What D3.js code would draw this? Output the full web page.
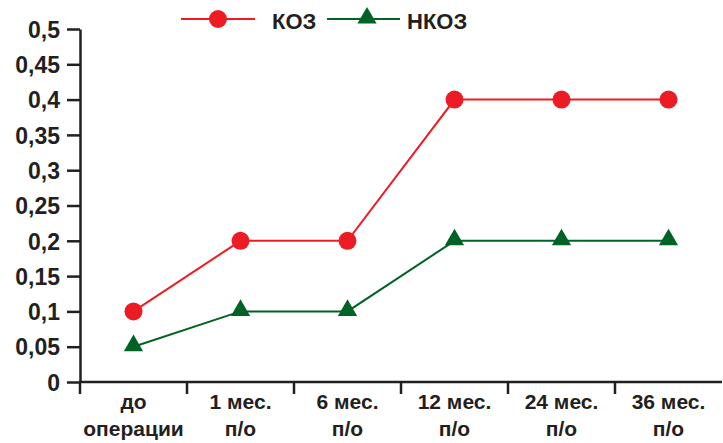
<!DOCTYPE html>
<html>
<head>
<meta charset="utf-8">
<script src="https://cdn.jsdelivr.net/npm/d3@7"></script>
<style>
  html, body { margin: 0; padding: 0; background: #fff; }
  svg { display: block; font-family: "Liberation Sans", Arial, Helvetica, sans-serif; font-weight: bold; }
</style>
</head>
<body>
<svg id="chart" width="723" height="443"></svg>
<script>
// Периоды наблюдения (две строки подписи на каждый)
const categories = [
  ["до", "операции"],
  ["1 мес.", "п/о"],
  ["6 мес.", "п/о"],
  ["12 мес.", "п/о"],
  ["24 мес.", "п/о"],
  ["36 мес.", "п/о"]
];
const kozValues  = [0.1, 0.2, 0.2, 0.4, 0.4, 0.4];
const nkozValues = [0.05, 0.1, 0.1, 0.2, 0.2, 0.2];
const yTicks = [0, 0.05, 0.1, 0.15, 0.2, 0.25, 0.3, 0.35, 0.4, 0.45, 0.5];
const seriesNames = ["КОЗ", "НКОЗ"];

const RED = "#ed1c24", GREEN = "#006325", INK = "#231f20";
const svg = d3.select("#chart");
const plotLeft = 80, plotRight = 722, plotTop = 29, plotBottom = 382;

const x = d3.scaleBand().domain(d3.range(categories.length)).range([plotLeft, plotRight]);
const y = d3.scaleLinear().domain([0, 0.5]).range([plotBottom, plotTop]);
const fmt = d => String(d).replace(".", ",");

// Ось Y
const yAxis = svg.append("g")
  .attr("transform", `translate(${plotLeft},0)`)
  .call(d3.axisLeft(y).tickValues(yTicks).tickFormat(fmt).tickSize(13).tickPadding(7).tickSizeOuter(0));
yAxis.select(".domain").attr("stroke", INK).attr("stroke-width", 2.5);
yAxis.selectAll(".tick line").attr("stroke", INK).attr("stroke-width", 2.5);
yAxis.selectAll(".tick text").attr("fill", INK).attr("dy", "0.36em").style("font-size", "23px")
  .style("font-family", "Liberation Sans, Arial, sans-serif").style("font-weight", "bold");

// Ось X: засечки на границах категорий
const xg = svg.append("g");
xg.append("line").attr("x1", plotLeft - 1).attr("x2", plotRight).attr("y1", plotBottom).attr("y2", plotBottom)
  .attr("stroke", INK).attr("stroke-width", 2.5);
const bounds = d3.range(0, categories.length).map(i => x(i));
xg.selectAll("line.tk").data(bounds).join("line").attr("class", "tk")
  .attr("x1", d => d).attr("x2", d => d).attr("y1", plotBottom).attr("y2", plotBottom + 12)
  .attr("stroke", INK).attr("stroke-width", 2.5);
const lab = xg.selectAll("text.cat").data(categories).join("text").attr("class", "cat")
  .attr("text-anchor", "middle").attr("fill", INK).style("font-size", "21px");
lab.append("tspan").attr("x", (d, i) => x(i) + x.bandwidth() / 2).attr("y", 409).text(d => d[0]);
lab.append("tspan").attr("x", (d, i) => x(i) + x.bandwidth() / 2).attr("y", 436).text(d => d[1]);

const cx = i => x(i) + x.bandwidth() / 2;
const line = d3.line().x((d, i) => cx(i)).y(d => y(d));

// Линии серий
svg.append("path").datum(kozValues).attr("d", line).attr("fill", "none").attr("stroke", RED).attr("stroke-width", 2);
svg.append("path").datum(nkozValues).attr("d", line).attr("fill", "none").attr("stroke", GREEN).attr("stroke-width", 2);

const tri = d3.symbol().type(d3.symbolTriangle).size(160);

// Маркеры
svg.selectAll("circle.koz").data(kozValues).join("circle").attr("class", "koz")
  .attr("cx", (d, i) => cx(i)).attr("cy", d => y(d)).attr("r", 9).attr("fill", RED);
svg.selectAll("path.nkoz").data(nkozValues).join("path").attr("class", "nkoz")
  .attr("d", tri).attr("transform", (d, i) => `translate(${cx(i)},${y(d) - 1})`).attr("fill", GREEN);

// Легенда
const lg = svg.append("g");
lg.append("line").attr("x1", 181).attr("x2", 255).attr("y1", 19).attr("y2", 19).attr("stroke", RED).attr("stroke-width", 2);
lg.append("circle").attr("cx", 218).attr("cy", 19).attr("r", 9).attr("fill", RED);
lg.append("text").attr("x", 272).attr("y", 29).attr("fill", INK).style("font-size", "22px").text(seriesNames[0]);
lg.append("line").attr("x1", 327).attr("x2", 400).attr("y1", 19).attr("y2", 19).attr("stroke", GREEN).attr("stroke-width", 2);
lg.append("path").attr("d", tri).attr("transform", "translate(367,18)").attr("fill", GREEN);
lg.append("text").attr("x", 407).attr("y", 29).attr("fill", INK).style("font-size", "22px").text(seriesNames[1]);
</script>
</body>
</html>
